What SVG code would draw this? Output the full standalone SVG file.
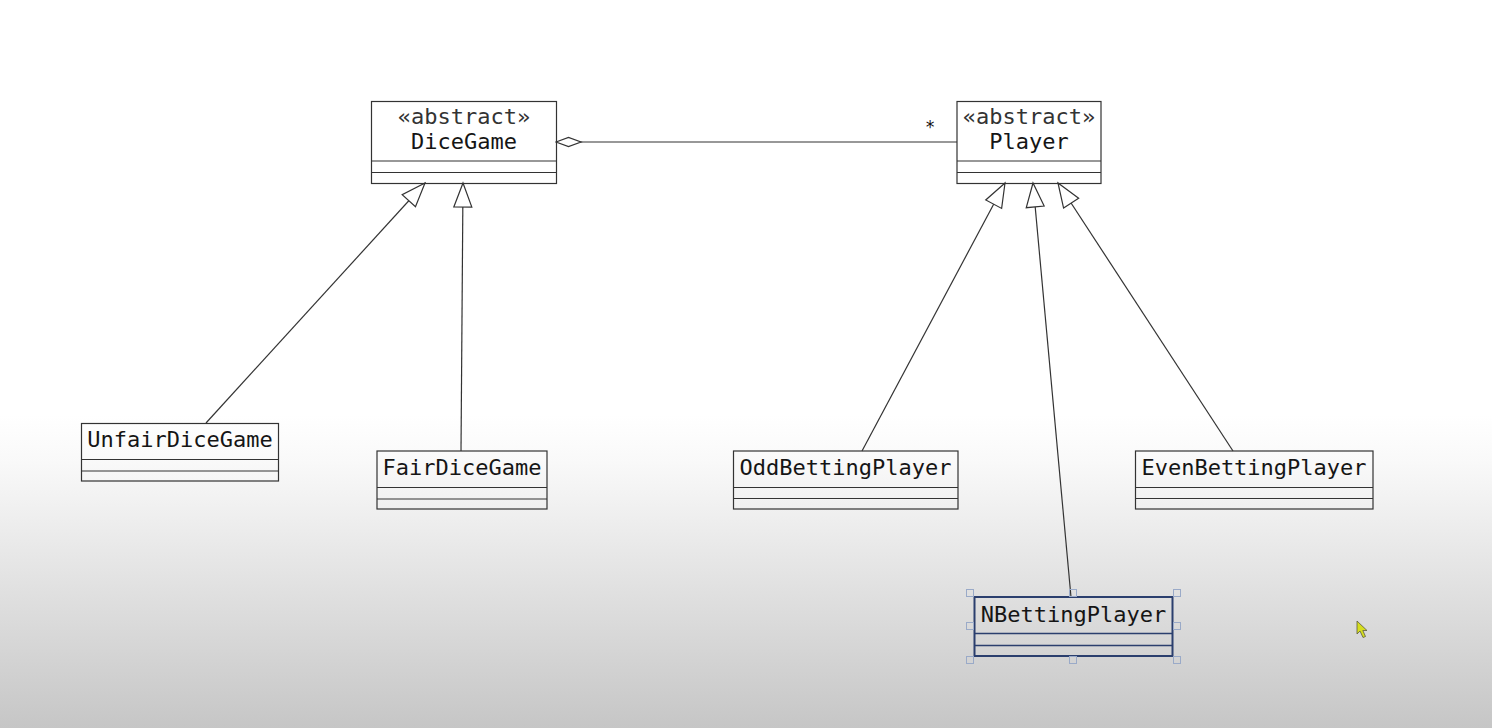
<svg xmlns="http://www.w3.org/2000/svg" width="1492" height="728" viewBox="0 0 1492 728">
  <defs>
    <linearGradient id="bg" gradientUnits="userSpaceOnUse" x1="0" y1="415" x2="0" y2="728">
      <stop offset="0" stop-color="#ffffff"/>
      <stop offset="0.15" stop-color="#f9f9f9"/>
      <stop offset="1" stop-color="#c6c6c6"/>
    </linearGradient>
    <marker id="gen" markerUnits="userSpaceOnUse" viewBox="-26 -11 28 22" markerWidth="28" markerHeight="22" refX="0" refY="0" orient="auto">
      <path d="M0,0 L-24,-9 L-24,9 Z" fill="#ffffff" stroke="#333333" stroke-width="1.2" stroke-linejoin="miter"/>
    </marker>
    <marker id="agg" markerUnits="userSpaceOnUse" viewBox="-1 -6 28 12" markerWidth="28" markerHeight="12" refX="0" refY="0" orient="auto">
      <path d="M0,0 L12.5,-4.5 L25,0 L12.5,4.5 Z" fill="#ffffff" stroke="#333333" stroke-width="1.2"/>
    </marker>
  </defs>
  <style>
    .box { fill: none; stroke: #333333; stroke-width: 1.2; }
    .sep { stroke: #333333; stroke-width: 1.2; }
    .sel { fill: none; stroke: #2b3f6e; stroke-width: 2; }
    .selsep { stroke: #2b3f6e; stroke-width: 1.6; }
    .lbl { font-family: "DejaVu Sans Mono", "Liberation Mono", monospace; font-size: 22px; fill: #151515; text-anchor: middle; }
    .stereo { fill: #333333; }
    .conn { fill: none; stroke: #333333; stroke-width: 1.2; }
    .handle { fill: none; stroke: #9aaac8; stroke-width: 1; }
  </style>
  <rect x="0" y="0" width="1492" height="728" fill="url(#bg)"/>

  <g id="connectors">
    <line class="conn" x1="556" y1="142" x2="957" y2="142" marker-start="url(#agg)"/>
    <text x="930" y="133" style="font-family: 'DejaVu Sans Mono', monospace; font-size: 17px; fill: #111111; text-anchor: middle;">*</text>
    <line class="conn" x1="206" y1="423" x2="425" y2="183" marker-end="url(#gen)"/>
    <line class="conn" x1="461" y1="451" x2="463" y2="183" marker-end="url(#gen)"/>
    <line class="conn" x1="862" y1="451" x2="1005" y2="183" marker-end="url(#gen)"/>
    <line class="conn" x1="1071" y1="597" x2="1033" y2="183" marker-end="url(#gen)"/>
    <line class="conn" x1="1233" y1="451" x2="1058" y2="183" marker-end="url(#gen)"/>
  </g>

  <g id="DiceGame">
    <rect class="box" x="371.5" y="101.5" width="185" height="82"/>
    <line class="sep" x1="371.5" y1="161" x2="556.5" y2="161"/>
    <line class="sep" x1="371.5" y1="172.5" x2="556.5" y2="172.5"/>
    <text class="lbl stereo" x="464" y="124">«abstract»</text>
    <text class="lbl" x="464" y="149">DiceGame</text>
  </g>

  <g id="Player">
    <rect class="box" x="957" y="101.5" width="144" height="82"/>
    <line class="sep" x1="957" y1="161" x2="1101" y2="161"/>
    <line class="sep" x1="957" y1="172.5" x2="1101" y2="172.5"/>
    <text class="lbl stereo" x="1029" y="124">«abstract»</text>
    <text class="lbl" x="1029" y="149">Player</text>
  </g>

  <g id="UnfairDiceGame">
    <rect class="box" x="81.5" y="423.5" width="197" height="57.5"/>
    <line class="sep" x1="81.5" y1="459.5" x2="278.5" y2="459.5"/>
    <line class="sep" x1="81.5" y1="471" x2="278.5" y2="471"/>
    <text class="lbl" x="180" y="447">UnfairDiceGame</text>
  </g>

  <g id="FairDiceGame">
    <rect class="box" x="377" y="451" width="170" height="58"/>
    <line class="sep" x1="377" y1="487.5" x2="547" y2="487.5"/>
    <line class="sep" x1="377" y1="499" x2="547" y2="499"/>
    <text class="lbl" x="462" y="475">FairDiceGame</text>
  </g>

  <g id="OddBettingPlayer">
    <rect class="box" x="733.5" y="451" width="224.5" height="58"/>
    <line class="sep" x1="733.5" y1="487.5" x2="958" y2="487.5"/>
    <line class="sep" x1="733.5" y1="498.5" x2="958" y2="498.5"/>
    <text class="lbl" x="845.5" y="475">OddBettingPlayer</text>
  </g>

  <g id="EvenBettingPlayer">
    <rect class="box" x="1135.5" y="451" width="237.5" height="58"/>
    <line class="sep" x1="1135.5" y1="487.5" x2="1373" y2="487.5"/>
    <line class="sep" x1="1135.5" y1="498.5" x2="1373" y2="498.5"/>
    <text class="lbl" x="1254" y="475">EvenBettingPlayer</text>
  </g>

  <g id="NBettingPlayer">
    <rect class="sel" x="974.5" y="597" width="198" height="59"/>
    <line class="selsep" x1="974.5" y1="633.5" x2="1172.5" y2="633.5"/>
    <line class="selsep" x1="974.5" y1="645.5" x2="1172.5" y2="645.5"/>
    <text class="lbl" x="1073.5" y="622">NBettingPlayer</text>
    <rect class="handle" x="966.5" y="589.5" width="7" height="7"/>
    <rect class="handle" x="1069.5" y="589.5" width="7" height="7"/>
    <rect class="handle" x="1173.5" y="589.5" width="7" height="7"/>
    <rect class="handle" x="966.5" y="622.5" width="7" height="7"/>
    <rect class="handle" x="1173.5" y="622.5" width="7" height="7"/>
    <rect class="handle" x="966.5" y="656.5" width="7" height="7"/>
    <rect class="handle" x="1069.5" y="656.5" width="7" height="7"/>
    <rect class="handle" x="1173.5" y="656.5" width="7" height="7"/>
  </g>

  <path d="M1357,621 L1357,634 L1360,631 L1363,637.5 L1365.5,636.5 L1362.8,630.5 L1367,630.5 Z" fill="#d6de1e" stroke="#5a5a40" stroke-width="0.8"/>
</svg>
